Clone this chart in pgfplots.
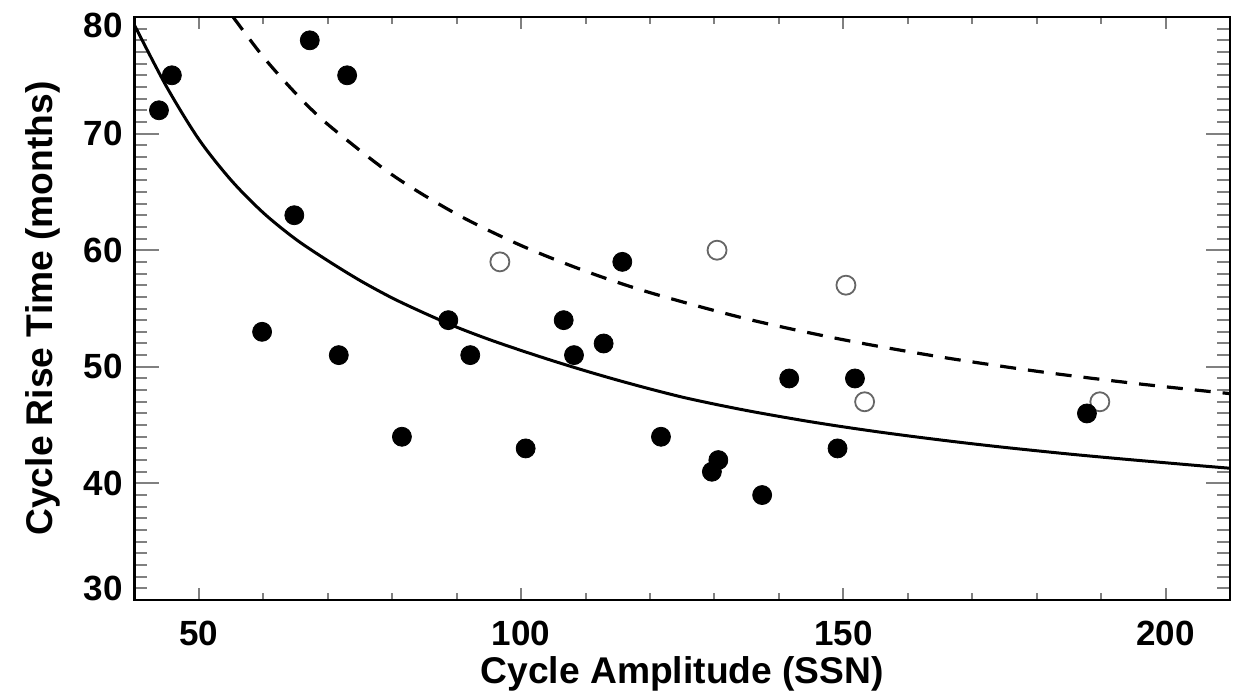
\documentclass[border=0pt]{standalone}
\usepackage{fontspec}
\setmainfont{Liberation Sans}
\usepackage{pgfplots}
\pgfplotsset{compat=1.18}
\begin{document}
\begin{tikzpicture}
\begin{axis}[
  scale only axis, width=547.75bp, height=291.5bp,
  xmin=40, xmax=210, ymin=30, ymax=80,
  axis line style={line width=1.2bp},
  tick align=inside,
  /pgf/number format/assume math mode=true,
  xtick={50,100,150,200}, xticklabels={50,100,150,200},
  minor xtick={60,70,80,90,110,120,130,140,160,170,180,190},
  ytick={30,40,50,60,70,80},
  yticklabels={\raisebox{6bp}[\height][\depth]{30},40,50,60,70,\raisebox{-4.25bp}[\height][\depth]{80}},
  minor ytick={31,...,79},
  xtick style={line width=1bp, /pgfplots/major tick length=5.8bp, /pgfplots/minor tick length=3.3bp},
  ytick style={line width=1bp, /pgfplots/major tick length=12bp, /pgfplots/minor tick length=6.3bp},
  ticklabel style={font=\fontsize{17.5bp}{20bp}\selectfont\bfseries},
  xticklabel style={inner sep=0pt, anchor=north, yshift=-10.5bp},
  yticklabel style={inner sep=0pt, anchor=east, xshift=-5.75bp},
  label style={font=\fontsize{18.6bp}{22bp}\selectfont\bfseries},
  xlabel={Cycle Amplitude (SSN)},
  ylabel={Cycle Rise Time (months)},
  xlabel style={at={(axis description cs:0.5,0)}, anchor=north, inner sep=0pt, yshift=-28bp},
  ylabel style={at={(axis description cs:-0.0671,0.5)}, anchor=south, inner sep=0pt},
  clip=true,
]
% solid fit curve
\addplot[black, line width=1.5bp, smooth] coordinates {
 (40,79.3) (45,74.0) (50,69.5) (55,66.0) (60,63.2) (65,60.95) (70,59.1)
 (75,57.4) (80,55.9) (85,54.6) (90,53.4) (95,52.35) (100,51.4) (105,50.5)
 (110,49.65) (115,48.85) (120,48.1) (125,47.4) (130,46.8) (135,46.25)
 (140,45.75) (145,45.28) (150,44.85) (155,44.45) (160,44.08) (165,43.73)
 (170,43.40) (175,43.09) (180,42.8) (185,42.52) (190,42.26) (195,42.01)
 (200,41.77) (205,41.53) (210,41.3)};
% dashed fit curve
\addplot[black, line width=1.6bp, smooth, dash pattern=on 8bp off 6bp] coordinates {
 (55.3,80.0) (60,76.57) (65,73.46) (70,70.79) (80,66.46) (90,63.09)
 (100,60.40) (110,58.20) (120,56.36) (135,54.11) (150,52.32) (165,50.85)
 (180,49.62) (195,48.59) (210,47.70)};
% open circles
\addplot[only marks, mark=*, mark size=4.75bp,
  mark options={fill=white, draw=black!60, line width=0.9bp}] coordinates {
 (96.7,59) (130.4,60) (150.4,57) (153.3,47) (189.8,47)};
% filled circles
\addplot[only marks, mark=*, mark size=4.75bp,
  mark options={fill=black, draw=black}] coordinates {
 (43.8,72) (45.8,75) (67.2,78) (73.0,75) (64.8,63) (59.8,53) (71.7,51)
 (88.7,54) (92.1,51) (81.5,44) (100.7,43) (115.7,59) (106.6,54) (108.2,51)
 (112.8,52) (121.7,44) (130.6,42) (129.6,41) (137.4,39) (141.6,49)
 (151.8,49) (149.1,43) (187.8,46)};
\end{axis}
\pgfresetboundingbox
\useasboundingbox (-67.25bp,-49.5bp) rectangle (556.75bp,300bp);
\end{tikzpicture}
\end{document}
